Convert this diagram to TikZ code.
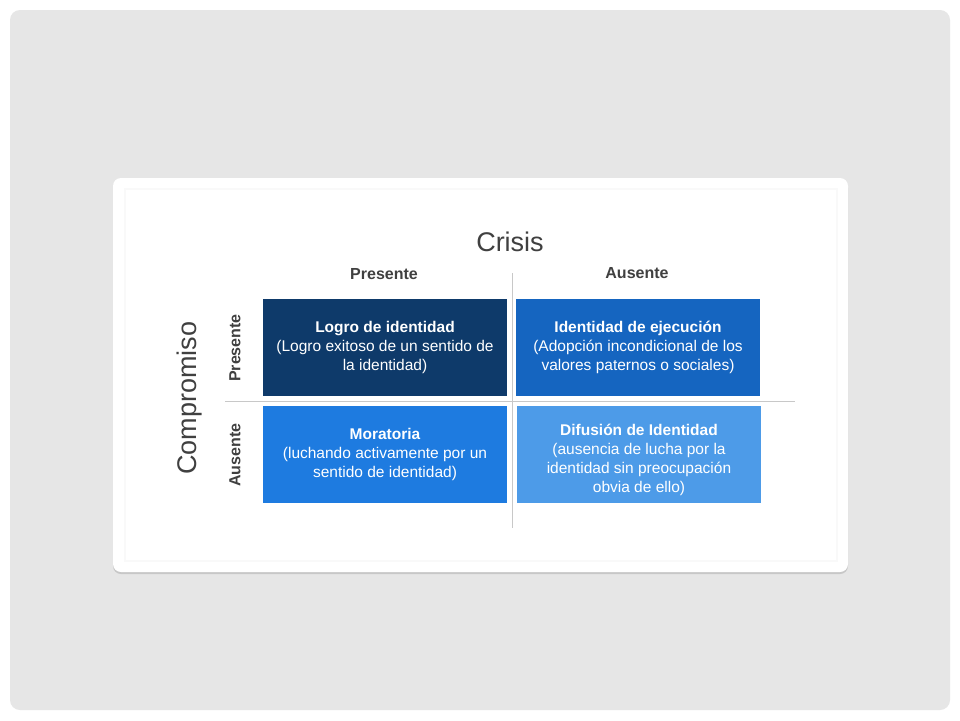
\documentclass[tikz,border=0pt]{standalone}
\usepackage{fontspec}
\setmainfont{Liberation Sans}
\usetikzlibrary{shadows}
\definecolor{bggray}{HTML}{E6E6E6}
\definecolor{textgray}{HTML}{404040}
\definecolor{linegray}{HTML}{C8C8C8}
\definecolor{navy}{HTML}{0E3A6A}
\definecolor{midblue}{HTML}{1565C0}
\definecolor{brightblue}{HTML}{1E7BE0}
\definecolor{lightblue}{HTML}{4D9BE8}
\begin{document}
\begin{tikzpicture}[x=1pt, y=-1pt,
    cell/.style={fill=#1, text=white, minimum width=244pt, minimum height=97pt,
        inner sep=0pt, align=center, font=\fontsize{15.5}{19}\selectfont},
    head/.style={text=textgray, font=\fontsize{16}{19}\selectfont\bfseries},
    bigtitle/.style={text=textgray, font=\fontsize{27}{30}\selectfont},
    divider/.style={draw=linegray, line width=1pt}]
        \useasboundingbox (0, 0) rectangle (960, 720);
        \fill[white] (0, 0) rectangle (960, 720);
        \fill[bggray, rounded corners=10pt] (10, 10) rectangle (950, 710);
        \fill[white, rounded corners=8pt, drop shadow={shadow xshift=0pt, shadow yshift=-2pt, opacity=0.3}] (113, 178) rectangle (848, 572);
        \draw[black!2.5, line width=2pt] (125, 189) rectangle (837, 561);

        \node[bigtitle] (crisis) at (510, 242) {Crisis};
        \node[head] (cpres) at (384, 274) {Presente};
        \node[head] (caus) at (637, 273) {Ausente};

        \node[bigtitle, rotate=90] (comp) at (190, 398) {Compromiso};
        \node[head, rotate=90] (kpres) at (235, 348) {Presente};
        \node[head, rotate=90] (kaus) at (235, 455) {Ausente};

        \coordinate (vtop) at (512, 273);
        \coordinate (vbot) at (512, 528);
        \coordinate (hleft) at (225, 401);
        \coordinate (hright) at (795, 401);
        \draw[divider] (vtop) -- (vbot);
        \draw[divider] (hleft) -- (hright);

        \node[cell=navy] (logro) at (385, 347.5) {\textbf{Logro de identidad}\\(Logro exitoso de un sentido de\\la identidad)};
        \node[cell=midblue] (ejec) at (638, 347) {\textbf{Identidad de ejecución}\\(Adopción incondicional de los\\valores paternos o sociales)};
        \node[cell=brightblue] (morat) at (385, 454) {\textbf{Moratoria}\\(luchando activamente por un\\sentido de identidad)};
        \node[cell=lightblue] (difus) at (639, 454) {\rule{0pt}{24pt}\textbf{Difusión de Identidad}\\(ausencia de lucha por la\\identidad sin preocupación\\obvia de ello)};
\end{tikzpicture}
\end{document}
